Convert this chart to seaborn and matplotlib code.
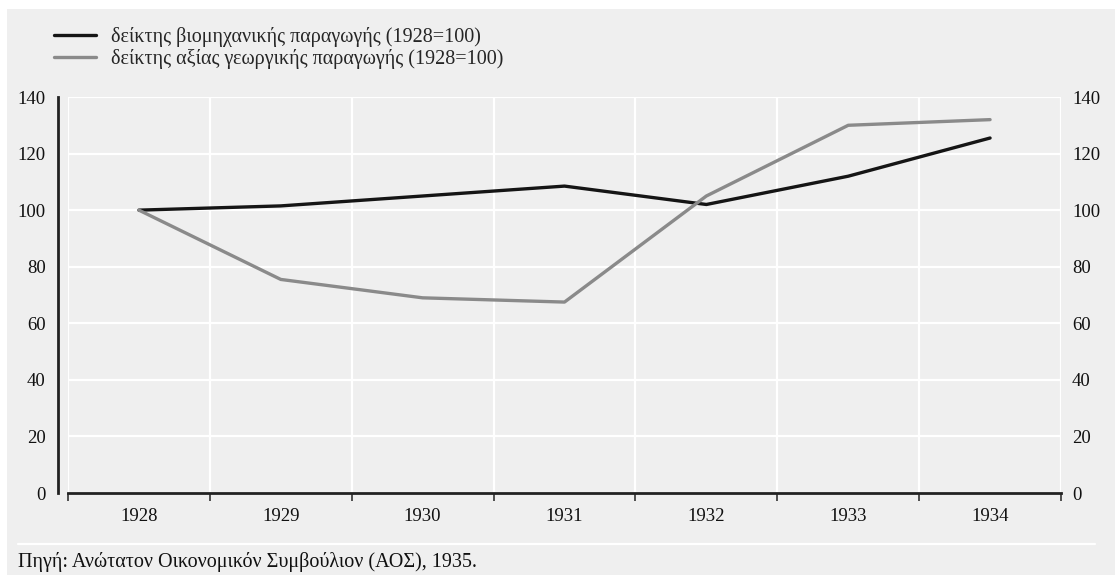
import numpy as np
import pandas as pd
import matplotlib
matplotlib.use("Agg")
import matplotlib.pyplot as plt
import seaborn as sns
from matplotlib.patches import Rectangle

years = ["1928", "1929", "1930", "1931", "1932", "1933", "1934"]
industrial = [100, 101.5, 105, 108.5, 102, 112, 125.5]
agricultural = [100, 75.5, 69, 67.5, 105, 130, 132]
series_names = ["δείκτης βιομηχανικής παραγωγής (1928=100)",
                "δείκτης αξίας γεωργικής παραγωγής (1928=100)"]
y_ticks = [0, 20, 40, 60, 80, 100, 120, 140]
source = "Πηγή: Ανώτατον Οικονομικόν Συμβούλιον (ΑΟΣ), 1935."

df = pd.DataFrame({
    "year": years * 2,
    "value": industrial + agricultural,
    "series": [series_names[0]] * len(years) + [series_names[1]] * len(years),
})

sns.set_theme(style="white")
plt.rcParams["font.family"] = ["Liberation Serif", "DejaVu Serif"]

W, H = 1115, 575
fig = plt.figure(figsize=(W / 100, H / 100), dpi=100, facecolor="white")
bg = "#efefef"
fig.patches.append(Rectangle((7 / W, 0), 1 - 7 / W, 566 / H, transform=fig.transFigure,
                             facecolor=bg, edgecolor="none", zorder=-10))

ax = fig.add_axes([68 / W, 82 / H, (1061 - 68) / W, (478 - 82) / H])
ax.set_facecolor(bg)

sns.lineplot(data=df, x="year", y="value", hue="series",
             palette=["#151515", "#8a8a8a"], linewidth=2.4, ax=ax, sort=False)

ax.set_xlim(-0.5, 6.5)
ax.set_ylim(0, 140)
ax.set_yticks(y_ticks)
ax.set_yticks([0], minor=True)
ax.set_xticks(range(len(years)))
ax.set_xticklabels(years)
ax.set_xticks(np.arange(-0.5, 7, 1), minor=True)
ax.tick_params(axis="x", which="major", bottom=True, length=0, pad=11, labelsize=13.5, colors="#111111")
ax.tick_params(axis="x", which="minor", bottom=True, length=6, width=1.2, direction="out", color="#333333")
ax.tick_params(axis="y", which="major", left=True, length=0, pad=9, labelsize=13.5, colors="#111111")
ax.tick_params(axis="y", which="minor", left=True, length=4, width=1.2, direction="in", color="#333333")
ax.grid(False)
ax.yaxis.grid(True, which="major", color="white", linewidth=1.6)
ax.xaxis.grid(True, which="minor", color="white", linewidth=1.6)
ax.set_axisbelow(True)
ax.set_xlabel("")
ax.set_ylabel("")

for s in ["top", "right"]:
    ax.spines[s].set_visible(False)
ax.spines["left"].set_position(("outward", 7))
ax.spines["left"].set_color("#222222")
ax.spines["left"].set_linewidth(2.0)
ax.spines["bottom"].set_color("#222222")
ax.spines["bottom"].set_linewidth(2.0)

ax2 = ax.twinx()
ax2.set_ylim(0, 140)
ax2.set_yticks(y_ticks)
ax2.tick_params(axis="y", right=True, length=0, pad=8, labelsize=13.5, colors="#111111")
for s in ax2.spines.values():
    s.set_visible(False)
ax2.grid(False)

leg = ax.get_legend()
handles = leg.legend_handles
labels = [t.get_text() for t in leg.get_texts()]
leg.remove()
for h in handles:
    h.set_linewidth(2.4)
fig.legend(handles, labels, loc="upper left", bbox_to_anchor=(54 / W, 1 - 27 / H),
           frameon=False, fontsize=14.5, handlelength=2.1, handletextpad=0.75,
           labelspacing=0.1, borderaxespad=0, borderpad=0)

fig.add_artist(plt.Line2D([18 / W, 1095 / W], [1 - 544 / H, 1 - 544 / H],
                          transform=fig.transFigure, color="white", linewidth=1.6))
fig.text(18 / W, 1 - 562 / H, source, fontsize=14.5, color="#111111", va="center", ha="left")

fig.savefig("out.png", dpi=100, facecolor=fig.get_facecolor())
